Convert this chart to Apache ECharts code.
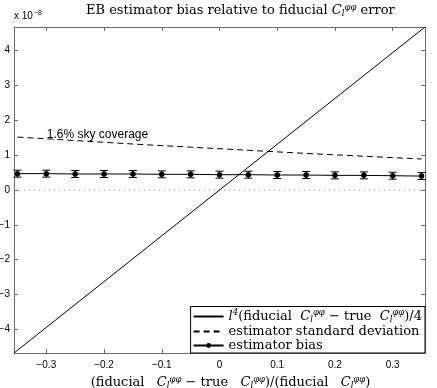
<!DOCTYPE html>
<html>
<head>
<meta charset="utf-8">
<script src="https://cdn.jsdelivr.net/npm/echarts@6/dist/echarts.min.js"></script>
<style>
  html, body { margin: 0; padding: 0; background: #fff; }
  #chart { width: 437px; height: 388px; }
</style>
</head>
<body>
<div id="chart"></div>
<script>
// axis limits (units of 1e-8 on y)
const xLim = [-0.356, 0.356];
const yLim = [-4.68, 4.68];
const xTicks = [-0.3, -0.2, -0.1, 0, 0.1, 0.2, 0.3];
const yTicks = [-4, -3, -2, -1, 0, 1, 2, 3, 4];

// l^4 (fiducial - true)/4
const fidX = [-0.356, 0.356];
const fidY = [-4.68, 4.68];

// estimator standard deviation (1.6% sky)
const stdX = [-0.35, -0.25, -0.15, -0.05, 0.05, 0.15, 0.25, 0.35];
const stdY = [1.52, 1.42, 1.32, 1.23, 1.14, 1.05, 0.97, 0.89];

// estimator bias with error bars
const biasX = [-0.35, -0.3, -0.25, -0.2, -0.15, -0.1, -0.05, 0, 0.05, 0.1, 0.15, 0.2, 0.25, 0.3, 0.35];
const biasY = [0.47, 0.47, 0.46, 0.46, 0.46, 0.45, 0.45, 0.44, 0.44, 0.43, 0.43, 0.42, 0.42, 0.41, 0.40];
const biasErr = [0.1, 0.1, 0.1, 0.1, 0.1, 0.1, 0.1, 0.1, 0.1, 0.1, 0.1, 0.1, 0.1, 0.1, 0.1];

const SERIF = 'DejaVu Serif';
const SANS = 'Liberation Sans';
const FS = 13;
const FRAME = '#6a6a6a';

const rich = {
  t: { fontFamily: SERIF, fontSize: FS, fontWeight: 'normal', color: '#000' },
  i: { fontFamily: SERIF, fontSize: FS, fontWeight: 'normal', fontStyle: 'italic', color: '#000' },
  sup: { fontFamily: SERIF, fontSize: 8.5, fontWeight: 'normal', fontStyle: 'italic', color: '#000', padding: [0, 0, 7, 0] },
  sub: { fontFamily: SERIF, fontSize: 8.5, fontWeight: 'normal', fontStyle: 'italic', color: '#000', padding: [6, 0, 0, 0] }
};
const C = '{i|C}{sub|l}{sup|φφ}';

const legendText = {
  fid: '{i|l}{sup|4}{t|(fiducial  }' + C + '{t| − true  }' + C + '{t|)/4}',
  std: '{t|estimator standard deviation}',
  bias: '{t|estimator bias}'
};

const minus = v => String(v).replace('-', '−');

const chart = echarts.init(document.getElementById('chart'));

const frameAxis = {
  axisLine: { show: true, onZero: false, lineStyle: { color: FRAME, width: 1 } },
  axisTick: { show: true, inside: true, length: 4, lineStyle: { color: FRAME } },
  splitLine: { show: false }
};

const hiddenIcon = { color: 'rgba(0,0,0,0)', borderWidth: 0 };

chart.setOption({
  animation: false,
  title: {
    text: '{t|EB estimator bias relative to fiducial }' + C + '{t| error}',
    left: 86, top: 3, padding: 0,
    textStyle: { rich: rich }
  },
  grid: { left: 14, right: 12, top: 27, bottom: 35, outerBoundsMode: 'none', containLabel: false },
  legend: {
    data: [
      { name: 'fid', itemStyle: hiddenIcon },
      { name: 'std', itemStyle: hiddenIcon },
      { name: 'bias' }
    ],
    orient: 'vertical',
    right: 12, bottom: 35,
    padding: [2, 3, 1, 2],
    itemGap: 1,
    itemWidth: 30, itemHeight: 6,
    borderColor: '#000', borderWidth: 1,
    backgroundColor: '#fff',
    formatter: name => legendText[name],
    textStyle: { rich: rich }
  },
  xAxis: [{
    type: 'value', min: xLim[0], max: xLim[1],
    ...frameAxis,
    axisTick: { ...frameAxis.axisTick, customValues: xTicks },
    axisLabel: {
      customValues: xTicks, margin: 7,
      fontFamily: SANS, fontSize: 10, color: '#000',
      formatter: v => v === 0 ? '0' : minus(v.toFixed(1))
    },
    name: '{t|(fiducial   }' + C + '{t| − true   }' + C + '{t|)/(fiducial   }' + C + '{t|)}',
    nameLocation: 'middle', nameGap: 20,
    nameTextStyle: { rich: rich, padding: [0, 0, 0, 22] }
  }, {
    type: 'value', min: xLim[0], max: xLim[1], position: 'top',
    ...frameAxis,
    axisTick: { ...frameAxis.axisTick, customValues: xTicks },
    axisLabel: { show: false }
  }],
  yAxis: [{
    type: 'value', min: yLim[0], max: yLim[1],
    ...frameAxis,
    axisTick: { ...frameAxis.axisTick, customValues: yTicks },
    axisLabel: {
      customValues: yTicks, margin: 4,
      fontFamily: SANS, fontSize: 10, color: '#000',
      formatter: v => minus(v)
    },
    name: '{a|x 10}{b|−8}',
    nameLocation: 'end', nameGap: 4,
    nameTextStyle: {
      align: 'left',
      rich: {
        a: { fontFamily: SANS, fontSize: 10, color: '#000' },
        b: { fontFamily: SANS, fontSize: 7, color: '#000', padding: [0, 0, 6, 1] }
      }
    }
  }, {
    type: 'value', min: yLim[0], max: yLim[1], position: 'right',
    ...frameAxis,
    axisTick: { ...frameAxis.axisTick, customValues: yTicks },
    axisLabel: { show: false }
  }],
  series: [
    {
      name: 'zero', type: 'line', symbol: 'none', silent: true,
      data: [[xLim[0], 0], [xLim[1], 0]],
      lineStyle: { color: '#888', width: 1, type: [1, 4] }
    },
    {
      name: 'fid', type: 'line', symbol: 'none',
      data: fidX.map((x, i) => [x, fidY[i]]),
      lineStyle: { color: '#000', width: 1 },
      itemStyle: { color: '#000' }
    },
    {
      name: 'std', type: 'line', symbol: 'none',
      data: stdX.map((x, i) => [x, stdY[i]]),
      lineStyle: { color: '#000', width: 1, type: [6, 4] },
      itemStyle: { color: '#000' },
      markPoint: {
        symbol: 'circle', symbolSize: 1,
        itemStyle: { color: 'rgba(0,0,0,0)' },
        data: [{
          coord: [-0.3, 1.6],
          label: {
            show: true, position: 'right', distance: 0,
            formatter: '1.6% sky coverage',
            fontFamily: SANS, fontSize: 12, color: '#000'
          }
        }]
      }
    },
    {
      name: 'bias', type: 'line', symbol: 'circle', symbolSize: 5.5,
      data: biasX.map((x, i) => [x, biasY[i]]),
      lineStyle: { color: '#000', width: 1 },
      itemStyle: { color: '#000' },
      z: 4
    },
    {
      name: 'biasErr', type: 'custom', silent: true, z: 3,
      data: biasX.map((x, i) => [x, biasY[i], biasErr[i]]),
      encode: { x: 0, y: 1 },
      renderItem: (params, api) => {
        const x = api.value(0), y = api.value(1), e = api.value(2);
        const hi = api.coord([x, y + e]);
        const lo = api.coord([x, y - e]);
        const w = 4;
        const style = { stroke: '#000', lineWidth: 1 };
        return {
          type: 'group',
          children: [
            { type: 'line', shape: { x1: hi[0], y1: hi[1], x2: lo[0], y2: lo[1] }, style },
            { type: 'line', shape: { x1: hi[0] - w, y1: hi[1], x2: hi[0] + w, y2: hi[1] }, style },
            { type: 'line', shape: { x1: lo[0] - w, y1: lo[1], x2: lo[0] + w, y2: lo[1] }, style }
          ]
        };
      }
    }
  ]
});

window.addEventListener('resize', () => chart.resize());
</script>
</body>
</html>
